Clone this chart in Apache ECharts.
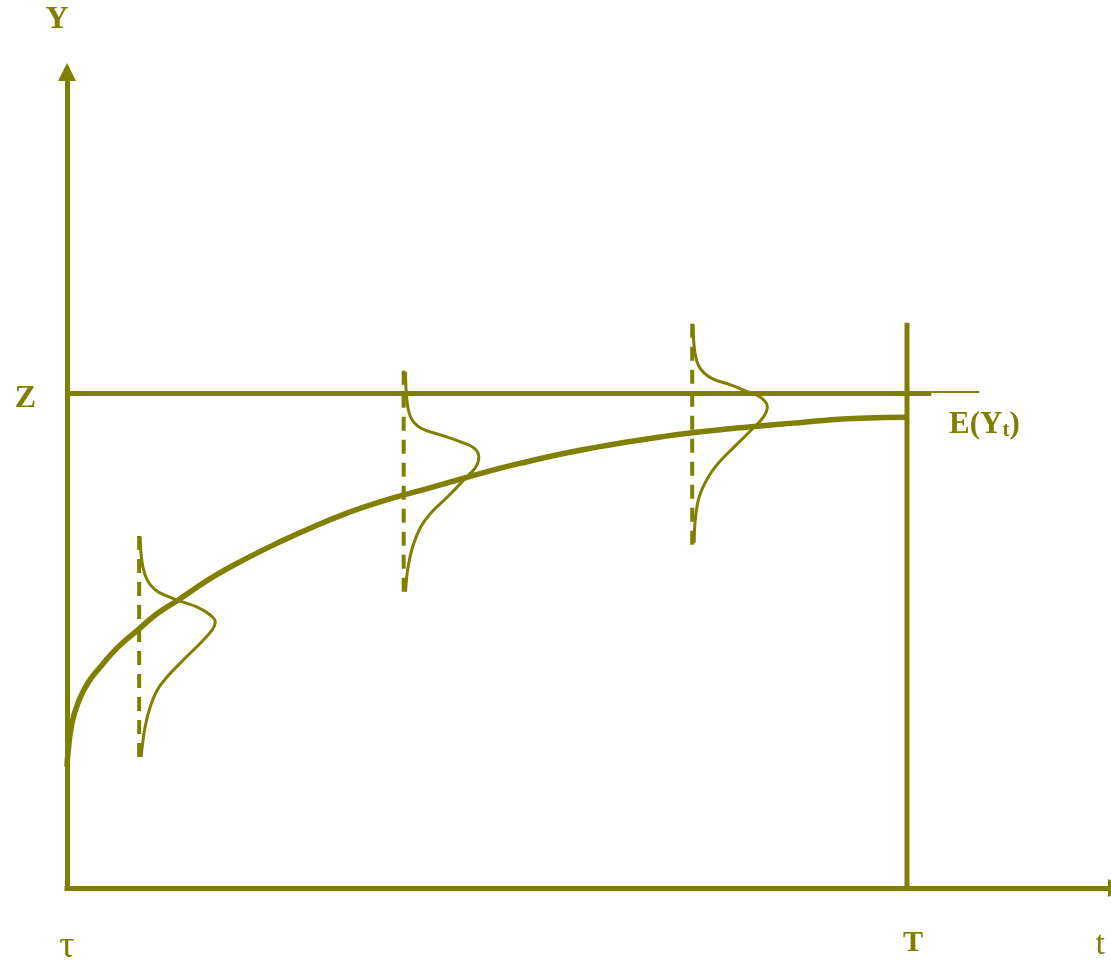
<!DOCTYPE html>
<html>
<head>
<meta charset="utf-8">
<script src="https://cdn.jsdelivr.net/npm/echarts@6/dist/echarts.min.js"></script>
<style>
  html, body { margin: 0; padding: 0; background: #fff; }
  #chart { width: 1111px; height: 962px; }
</style>
</head>
<body>
<div id="chart"></div>
<script>
// units: t runs from tau = 0 to T = 10, Z sits at 10 on the Y scale
const xMax = 12.5;
const yMax = 16.5;
const T = 10;
const Z = 10;

// E(Y_t) curve
const curveT = [0, 0.012, 0.06, 0.131, 0.25, 0.417, 0.607, 0.845, 1.083, 1.321, 1.738, 2.143, 2.536, 2.929, 3.333, 3.726, 4.321, 4.714, 5.071, 5.476, 5.869, 6.262, 6.667, 7.06, 7.417, 7.857, 8.25, 8.643, 9.048, 9.44, 10];
const curveY = [2.45, 2.73, 3.34, 3.74, 4.15, 4.51, 4.87, 5.22, 5.56, 5.82, 6.29, 6.67, 7.0, 7.3, 7.58, 7.81, 8.09, 8.28, 8.45, 8.62, 8.77, 8.9, 9.02, 9.12, 9.2, 9.28, 9.34, 9.4, 9.46, 9.5, 9.52];

// Z line: thick part and thin tail
const zThickEnd = 10.29;
const zThinEnd = 10.86;
const zThinY = 10.03;

// top of the vertical line at T
const tLineTop = 11.43;

// dashed verticals: [t, bottom, top]
const dashes = [
  [0.859, 2.65, 7.12],
  [4.008, 5.99, 10.48],
  [7.443, 6.94, 11.43]
];

// the three sideways densities
const dens1T = [0.871, 0.895, 0.954, 1.05, 1.193, 1.348, 1.551, 1.706, 1.765, 1.729, 1.586, 1.384, 1.193, 1.073, 0.99, 0.93, 0.895, 0.883];
const dens1Y = [7.1, 6.57, 6.23, 6.03, 5.9, 5.8, 5.68, 5.52, 5.38, 5.22, 4.95, 4.61, 4.27, 4.0, 3.66, 3.26, 2.85, 2.65];
const dens2T = [4.031, 4.043, 4.091, 4.21, 4.449, 4.687, 4.843, 4.902, 4.866, 4.723, 4.532, 4.33, 4.21, 4.115, 4.055, 4.031];
const dens2Y = [10.43, 9.93, 9.52, 9.3, 9.16, 9.02, 8.9, 8.72, 8.51, 8.25, 7.91, 7.58, 7.3, 6.9, 6.43, 5.99];
const dens3T = [7.455, 7.467, 7.526, 7.669, 7.908, 8.111, 8.266, 8.337, 8.29, 8.146, 7.944, 7.753, 7.634, 7.526, 7.479, 7.467];
const dens3Y = [11.39, 10.94, 10.54, 10.31, 10.17, 10.03, 9.91, 9.73, 9.52, 9.26, 8.92, 8.59, 8.31, 7.91, 7.44, 6.98];

// tick labels
const xLabelValues = [0, 10.07, 12.3];
const xLabelTexts = ["τ", "T", "t"];
const yLabelValues = [9.9];
const yLabelTexts = ["Z"];

const olive = "#808000";
const serif = "'Liberation Serif', 'DejaVu Serif', serif";

const zip = (a, b) => a.map((v, i) => [v, b[i]]);

function plain(name, data, width, extra) {
  return Object.assign({
    name,
    type: "line",
    data,
    symbol: "none",
    silent: true,
    lineStyle: { color: olive, width },
  }, extra || {});
}

let series = [];

series.push(plain("Z", [[0, Z], [zThickEnd, Z]], 5));
series.push(plain("Z tail", [[zThickEnd, zThinY], [zThinEnd, zThinY]], 2));
series.push(plain("T", [[T, 0], [T, tLineTop]], 5));

dashes.forEach((d, i) => {
  series.push(plain("dash" + i, [[d[0], d[1]], [d[0], d[2]]], 4, {
    lineStyle: { color: olive, width: 4, type: [14, 9] },
  }));
});

[[dens1T, dens1Y], [dens2T, dens2Y], [dens3T, dens3Y]].forEach((d, i) => {
  series.push(plain("dens" + i, zip(d[0], d[1]), 3, { smooth: 0.4 }));
});

series.push(plain("E(Yt)", zip(curveT, curveY), 5.5, {
  smooth: 0.5,
  endLabel: {
    show: true,
    distance: 42,
    offset: [0, 8],
    formatter: "{n|E(Y}{s|t}{n|)}",
    rich: {
      n: { fontFamily: serif, fontWeight: "bold", fontSize: 31, color: olive, lineHeight: 31, verticalAlign: "top" },
      s: { fontFamily: serif, fontWeight: "bold", fontSize: 21, color: olive, lineHeight: 21, verticalAlign: "bottom", padding: [14, 0, 0, 0] },
    },
  },
}));

let options = {
  animation: false,
  backgroundColor: "#fff",
  grid: { left: 67, top: 72, width: 1050, height: 816, containLabel: false, outerBoundsMode: "none" },
  xAxis: {
    type: "value",
    min: 0,
    max: xMax,
    splitLine: { show: false },
    axisTick: { show: false },
    axisLine: {
      show: true,
      onZero: false,
      symbol: ["none", "triangle"],
      symbolSize: [18, 18],
      lineStyle: { color: olive, width: 5, cap: "square" },
    },
    axisLabel: {
      customValues: xLabelValues,
      margin: 40,
      formatter: (v) => {
        const i = xLabelValues.indexOf(v);
        const txt = i >= 0 ? xLabelTexts[i] : "";
        if (txt === "T") return "{b|T}";
        if (txt === "τ") return "{g|τ}";
        return "{r|" + txt + "}";
      },
      rich: {
        g: { fontFamily: serif, fontSize: 38, color: olive },
        r: { fontFamily: serif, fontSize: 34, color: olive },
        b: { fontFamily: serif, fontSize: 30, fontWeight: "bold", color: olive },
      },
    },
  },
  yAxis: {
    type: "value",
    min: 0,
    max: yMax,
    name: "Y",
    nameLocation: "end",
    nameGap: 36,
    nameTextStyle: { fontFamily: serif, fontWeight: "bold", fontSize: 32, color: olive, padding: [0, 20, 0, 0] },
    splitLine: { show: false },
    axisTick: { show: false },
    axisLine: {
      show: true,
      onZero: false,
      symbol: ["none", "triangle"],
      symbolSize: [18, 18],
      lineStyle: { color: olive, width: 5, cap: "square" },
    },
    axisLabel: {
      customValues: yLabelValues,
      margin: 31,
      formatter: (v) => {
        const i = yLabelValues.indexOf(v);
        return i >= 0 ? yLabelTexts[i] : "";
      },
      fontFamily: serif,
      fontWeight: "bold",
      fontSize: 32,
      color: olive,
    },
  },
  series,
};

var chart = echarts.init(document.getElementById("chart"), null, { renderer: "canvas" });
chart.setOption(options);
window.addEventListener("resize", function () {
  chart.resize();
});
</script>
</body>
</html>
